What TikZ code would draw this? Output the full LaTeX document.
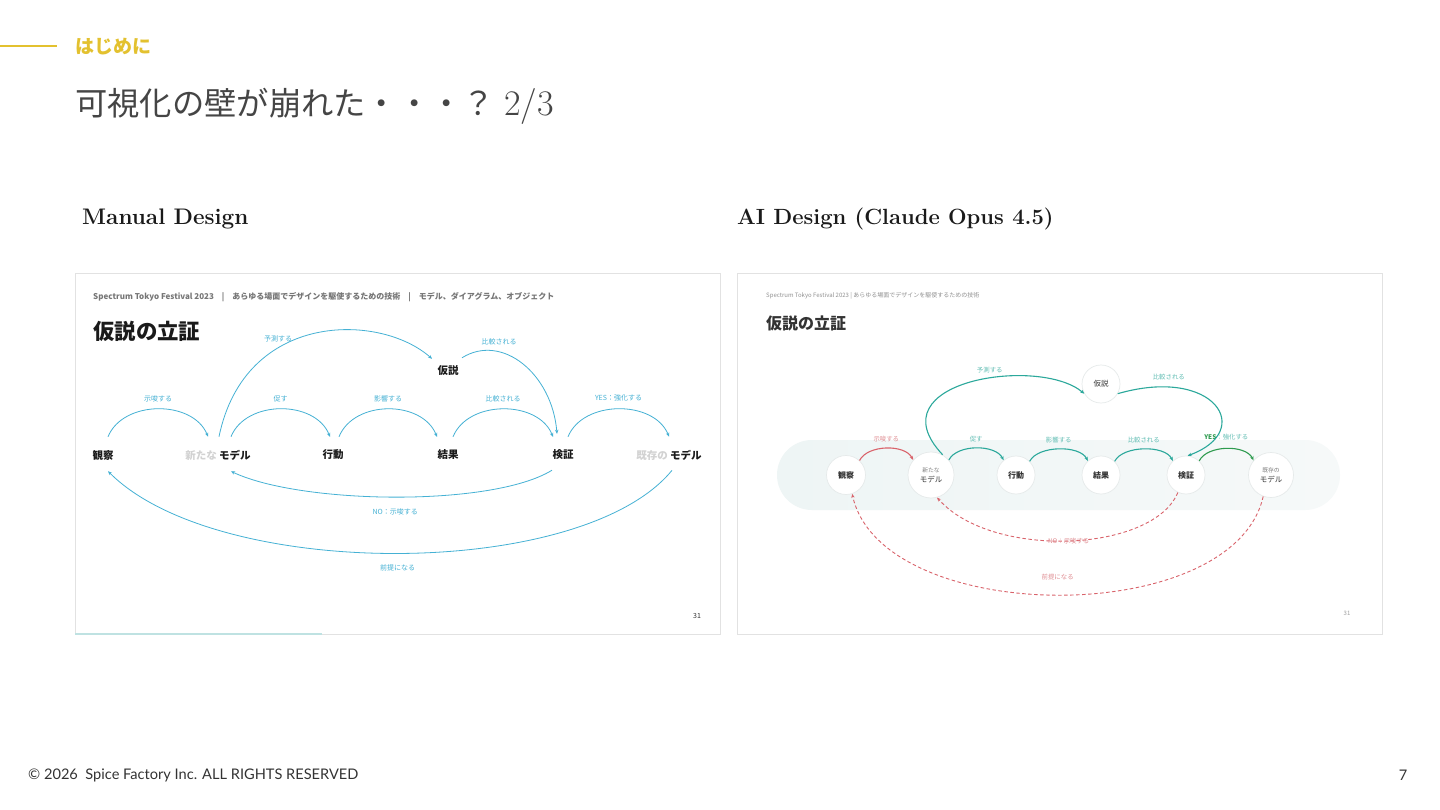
\documentclass[tikz,border=0pt]{standalone}
\usepackage{fontspec}
\usetikzlibrary{arrows.meta}
\newfontfamily\jp{Noto Sans CJK JP}
\newfontfamily\footfont{Lato}
\definecolor{ink}{HTML}{1A1A1A}
\definecolor{inkr}{HTML}{333333}
\definecolor{titlec}{HTML}{454545}
\definecolor{gold}{HTML}{E3C12F}
\definecolor{frame}{HTML}{E2E2E2}
\definecolor{strip}{HTML}{BFE2E2}
\definecolor{hdgray}{HTML}{767676}
\definecolor{pale}{HTML}{D2D2D2}
\definecolor{lblue}{HTML}{45B1D4}
\definecolor{rteal}{HTML}{2BA89B}
\definecolor{rtealtxt}{HTML}{62BEB4}
\definecolor{rred}{HTML}{D9636B}
\definecolor{rredtxt}{HTML}{E08E93}
\definecolor{rgreen}{HTML}{2E9B4F}
\definecolor{ring}{HTML}{E6EAEA}
\definecolor{bandL}{HTML}{EEF5F5}
\definecolor{bandR}{HTML}{F6F9F9}

\begin{document}
\begin{tikzpicture}[
  x=1pt, y=-1pt, >={Stealth[length=4pt,width=3.4pt]},
  lword/.style={font=\jp\bfseries\fontsize{10.5}{12}\selectfont, text=ink, inner sep=0pt},
  larc/.style={->, draw=lblue, line width=0.8pt},
  llbl/.style={font=\jp\fontsize{7}{8}\selectfont, text=lblue, inner sep=0pt},
  rnode/.style={circle, draw=ring, fill=white, line width=0.7pt, inner sep=0pt, align=center, text=inkr},
  rword/.style={rnode, font=\jp\bfseries\fontsize{8}{9}\selectfont},
  rarc/.style={->, draw=rteal, line width=1.1pt},
  rdash/.style={->, draw=rred, line width=0.9pt, dash pattern=on 3.5pt off 2.5pt},
  rlbl/.style={font=\jp\fontsize{6.4}{7}\selectfont, text=rtealtxt, inner sep=0pt},
]
\useasboundingbox (0,0) rectangle (1440,810);
\fill[white] (0,0) rectangle (1440,810);

% slide header
\draw[gold, line width=1.4pt] (0,46) -- (57,46);
\node[anchor=west, inner sep=0pt, text=gold, font=\jp\bfseries\fontsize{19}{20}\selectfont] (sect) at (75,47) {はじめに};
\node[anchor=west, inner sep=0pt, text=titlec, font=\jp\fontsize{32.3}{34}\selectfont] (title) at (75,106)
  {可視化の壁が崩れた・・・？\hspace{9pt}{\rmfamily\fontsize{36}{38}\selectfont 2/3}};
\node[anchor=west, inner sep=0pt, text=ink, font=\bfseries\fontsize{22.5}{24}\selectfont] (capL) at (82,219) {Manual Design};
\node[anchor=west, inner sep=0pt, text=ink, font=\bfseries\fontsize{22}{24}\selectfont] (capR) at (737,219) {AI Design (Claude Opus 4.5)};

% panels
\draw[frame, fill=white, line width=1pt] (75,274) rectangle (720,634);
\draw[strip, line width=1.2pt] (75,634) -- (322,634);
\draw[frame, fill=white, line width=1pt] (737,274) rectangle (1382,634);

% ---- manual design (left) ----
\node[anchor=west, inner sep=0pt, text=hdgray, font=\jp\bfseries\fontsize{8}{9}\selectfont] (hdL) at (93,297)
  {Spectrum Tokyo Festival 2023\quad|\quad あらゆる場面でデザインを駆使するための技術\quad|\quad モデル、ダイアグラム、オブジェクト};
\node[anchor=west, inner sep=0pt, text=ink, font=\jp\bfseries\fontsize{21.4}{23}\selectfont] (headL) at (93,331) {仮説の立証};

\node[lword] (kanL) at (103,455) {観察};
\node[lword] (modL) at (218,455) {\textcolor{pale}{新たな} モデル};
\node[lword] (koL) at (333,455) {行動};
\node[lword] (keL) at (448,455) {結果};
\node[lword] (kenL) at (563,455) {検証};
\node[lword] (kizL) at (669,455) {\textcolor{pale}{既存の} モデル};
\node[lword] (kaL) at (448,371) {仮説};

\draw[larc] ([xshift=5pt,yshift=13pt]kanL.north) .. controls +(15,-37) and +(-15,-37) .. ([xshift=-10pt,yshift=13pt]modL.north)
  node[llbl, midway, above=7pt] (lb1) {示唆する};
\draw[larc] ([xshift=13pt,yshift=13pt]modL.north) .. controls +(15,-37) and +(-15,-37) .. ([xshift=-3pt,yshift=13pt]koL.north)
  node[llbl, midway, above=7pt] (lb2) {促す};
\draw[larc] ([xshift=6pt,yshift=13pt]koL.north) .. controls +(15,-37) and +(-15,-37) .. ([xshift=-11pt,yshift=13pt]keL.north)
  node[llbl, midway, above=7pt] (lb3) {影響する};
\draw[larc] ([xshift=5pt,yshift=13pt]keL.north) .. controls +(15,-37) and +(-15,-37) .. ([xshift=-10pt,yshift=13pt]kenL.north)
  node[llbl, midway, above=7pt] (lb4) {比較される};
\draw[larc] ([xshift=5pt,yshift=13pt]kenL.north) .. controls +(15,-37) and +(-15,-37) .. ([yshift=13pt]kizL.north)
  node[llbl, midway, above=7pt] (lb5) {YES：強化する};
\draw[larc] ([xshift=1pt,yshift=13pt]modL.north) .. controls +(26,-126) and +(-52,-46) .. ([xshift=-16pt,yshift=7pt]kaL.north)
  node[llbl, pos=.35, above=5pt] (lb6) {予測する};
\draw[larc] ([xshift=14pt,yshift=8pt]kaL.north) .. controls +(40,-25) and +(-5,-60) .. ([xshift=-6pt,yshift=16pt]kenL.north)
  node[llbl, pos=.3, above=6pt] (lb7) {比較される};
\draw[larc] ([xshift=-11pt,yshift=-10pt]kenL.south) .. controls +(-60,37) and +(70,33) .. ([xshift=13pt,yshift=-11pt]modL.south)
  node[llbl, midway, below=11pt] (lb8) {NO：示唆する};
\draw[larc] ([xshift=3pt,yshift=-10pt]kizL.south) .. controls +(-90,110) and +(110,110) .. ([xshift=5pt,yshift=-11pt]kanL.south)
  node[llbl, midway, below=11pt] (lb9) {前提になる};

\node[inner sep=0pt, text=inkr, font=\jp\fontsize{7}{8}\selectfont] (pgL) at (697,616) {31};

% ---- AI design (right) ----
\node[anchor=west, inner sep=0pt, text=hdgray!80, font=\jp\fontsize{6}{7}\selectfont] (hdR) at (766,296)
  {Spectrum Tokyo Festival 2023 | あらゆる場面でデザインを駆使するための技術};
\node[anchor=west, inner sep=0pt, text=inkr, font=\jp\bfseries\fontsize{16}{18}\selectfont] (headR) at (766,323) {仮説の立証};

\path[left color=bandL, right color=bandR, rounded corners=35pt] (777,440) rectangle (1340,510);

\node[rword, minimum size=39pt] (kanR) at (846,475) {観察};
\node[rnode, minimum size=46pt, font=\jp\fontsize{7.5}{9}\selectfont] (modR) at (931,475)
  {{\fontsize{5.8}{6}\selectfont\color{gray}新たな}\\[1pt]モデル};
\node[rword, minimum size=38pt] (koR) at (1016,475) {行動};
\node[rword, minimum size=38pt] (keR) at (1101,475) {結果};
\node[rword, minimum size=38pt] (kenR) at (1186,475) {検証};
\node[rnode, minimum size=45pt, font=\jp\fontsize{7.5}{9}\selectfont] (kizR) at (1271,475)
  {{\fontsize{5.8}{6}\selectfont\color{gray}既存の}\\[1pt]モデル};
\node[rnode, minimum size=38pt, font=\jp\fontsize{7.5}{9}\selectfont] (kaR) at (1101,384) {仮説};

\draw[rarc, draw=rred] (kanR.47) .. controls +(8,-16) and +(-8,-16) .. (modR.140)
  node[rlbl, text=rredtxt, midway, above=6pt] (rb1) {示唆する};
\draw[rarc] (modR.40) .. controls +(8,-16) and +(-8,-16) .. (koR.130)
  node[rlbl, midway, above=6pt] (rb2) {促す};
\draw[rarc] (koR.45) .. controls +(8,-16) and +(-8,-16) .. (keR.133)
  node[rlbl, midway, above=6pt] (rb3) {影響する};
\draw[rarc] (keR.45) .. controls +(8,-16) and +(-8,-16) .. (kenR.133)
  node[rlbl, midway, above=6pt] (rb4) {比較される};
\draw[rarc, draw=rgreen] (kenR.47) .. controls +(8,-16) and +(-8,-16) .. (kizR.140)
  node[rlbl, midway, above=8pt] (rb5) {\textcolor{rgreen}{\bfseries YES}：強化する};
\draw[rarc] (modR.60) .. controls +(-70,-74) and +(-45,-38) .. (kaR.210)
  node[rlbl, pos=.58, above=5pt] (rb6) {予測する};
\draw[rarc] (kaR.-30) .. controls +(97,-28) and +(68,-25) .. (kenR.85)
  node[rlbl, pos=.2, above=6pt] (rb7) {比較される};
\draw[rdash] (kenR.-115) .. controls +(-25,60) and +(55,62) .. (modR.-75)
  node[rlbl, text=rredtxt, midway] (rb8) {NO：示唆する};
\draw[rdash] (kizR.-110) .. controls +(-30,133) and +(30,133) .. (kanR.-72)
  node[rlbl, text=rredtxt, midway, above=14pt] (rb9) {前提になる};

\node[inner sep=0pt, text=hdgray!70, font=\jp\fontsize{6}{7}\selectfont] (pgR) at (1347,613) {31};

% footer
\node[anchor=west, inner sep=0pt, text=inkr, font=\footfont\fontsize{14.6}{16}\selectfont] (copy) at (28,775)
  {© 2026\ \ Spice Factory Inc. ALL RIGHTS RESERVED};
\node[inner sep=0pt, text=inkr, font=\footfont\fontsize{14.6}{16}\selectfont] (pgno) at (1403,775) {7};
\end{tikzpicture}
\end{document}
